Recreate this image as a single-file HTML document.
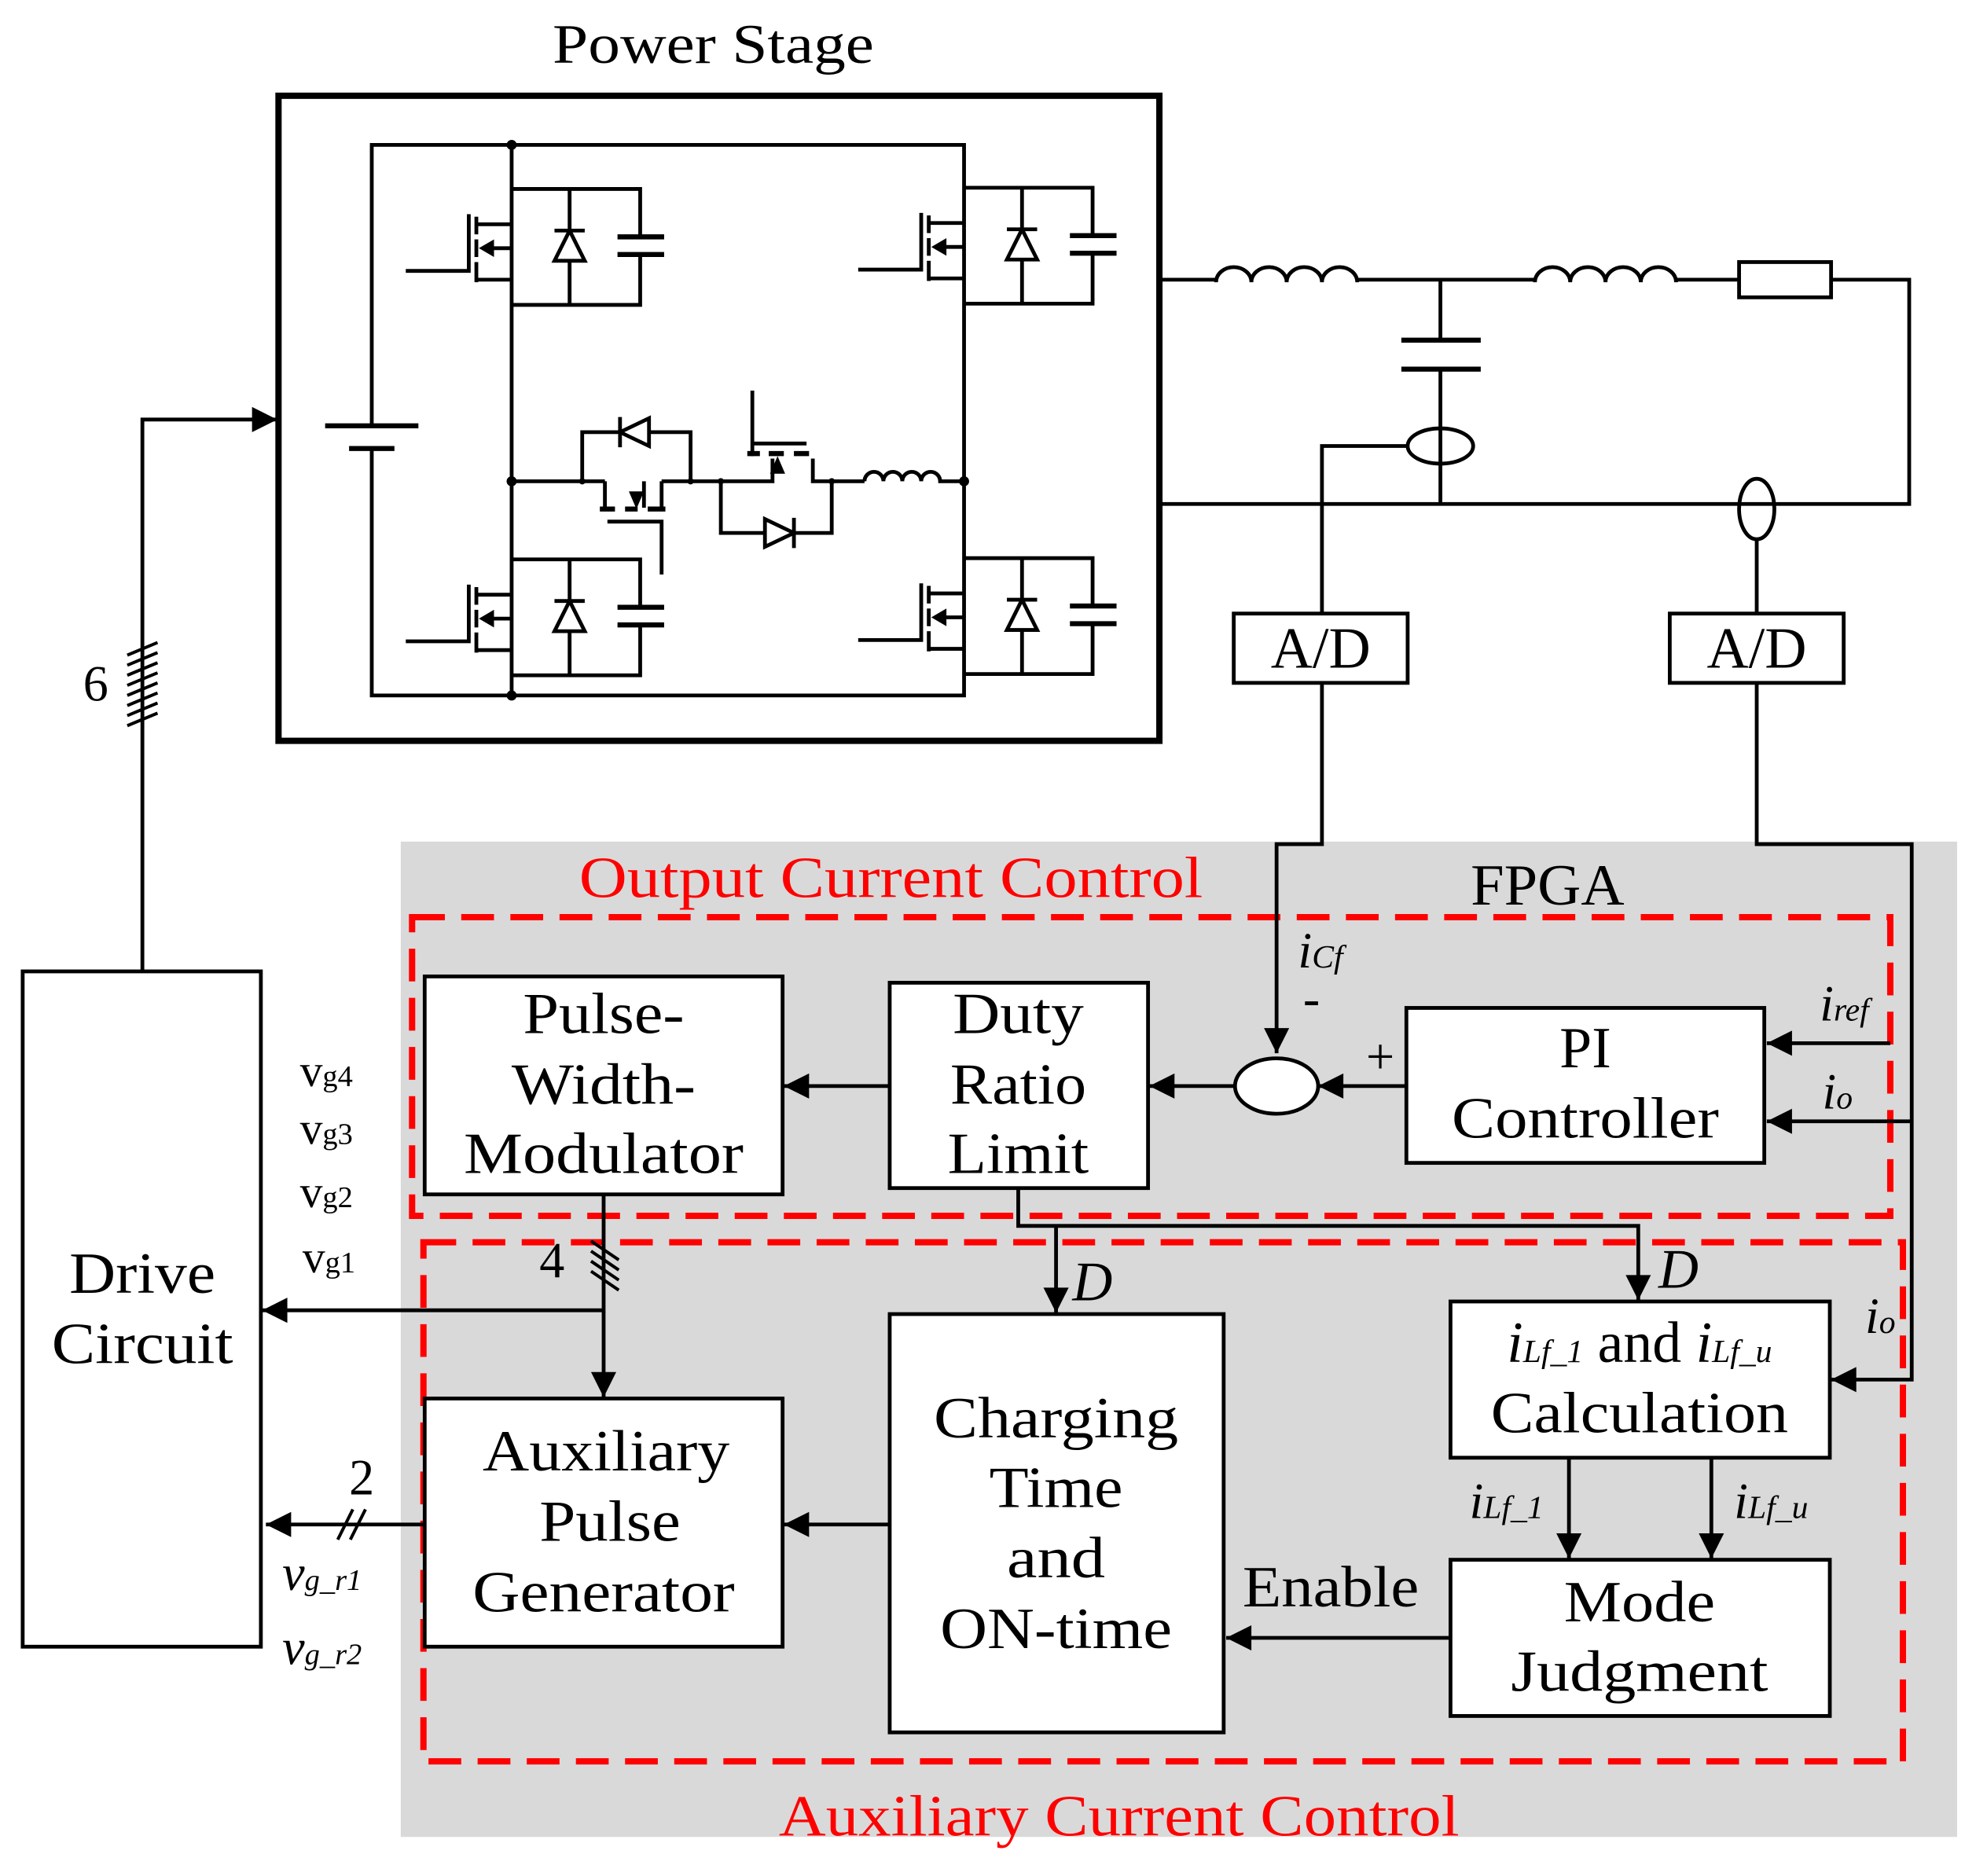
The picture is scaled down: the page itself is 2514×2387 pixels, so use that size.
<!DOCTYPE html>
<html><head><meta charset="utf-8"><style>
html,body{margin:0;padding:0;background:#fff;}
svg{display:block;}
text{font-family:"Liberation Serif",serif;}
</style></head><body>
<svg width="2514" height="2387" viewBox="0 0 1568 1489" preserveAspectRatio="none" xmlns="http://www.w3.org/2000/svg">
<defs>
<marker id="ah" viewBox="0 0 10 10" refX="10" refY="5" markerWidth="22" markerHeight="20" markerUnits="userSpaceOnUse" orient="auto"><path d="M0,0L10,5L0,10z" fill="#000"/></marker>
<g id="mos">
 <path d="M0,0H102V38M102,52V92H0" fill="none" stroke="#000" stroke-width="3"/>
 <line x1="84" y1="38" x2="121" y2="38" stroke="#000" stroke-width="4"/>
 <line x1="84" y1="52" x2="121" y2="52" stroke="#000" stroke-width="4"/>
 <line x1="46" y1="0" x2="46" y2="92" stroke="#000" stroke-width="3"/>
 <path d="M34,57L58,57L46,33z" fill="#fff" stroke="#000" stroke-width="3"/>
 <line x1="34" y1="33" x2="58" y2="33" stroke="#000" stroke-width="3"/>
 <path d="M-84,65H-34V20" fill="none" stroke="#000" stroke-width="3"/>
 <line x1="-28" y1="22" x2="-28" y2="36" stroke="#000" stroke-width="3"/>
 <line x1="-28" y1="40" x2="-28" y2="54" stroke="#000" stroke-width="3"/>
 <line x1="-28" y1="58" x2="-28" y2="74" stroke="#000" stroke-width="3"/>
 <path d="M-28,28H0M-28,72H0M0,47H-16" fill="none" stroke="#000" stroke-width="3"/>
 <path d="M-26,47L-14,40L-14,54z" fill="#000"/>
</g>
</defs>
<rect width="1568" height="1489" fill="#fff"/>

<text x="566" y="50" font-size="44" text-anchor="middle" textLength="255" lengthAdjust="spacingAndGlyphs">Power Stage</text>
<rect x="221" y="76" width="699" height="512" fill="none" stroke="#000" stroke-width="5"/>

<g fill="none" stroke="#000" stroke-width="3">
 <path d="M295,338V115H765V552H295V355"/>
 <line x1="406" y1="115" x2="406" y2="552"/>
 <line x1="258" y1="338" x2="332" y2="338" stroke-width="4"/>
 <line x1="277" y1="356" x2="313" y2="356" stroke-width="4"/>
 <path d="M406,382H480M462,382V343H548V382M525,382H572"/>
 <path d="M480,382V403M511,382V403M525,382V403"/>
 <path d="M476,404H488M496,404H506M514,404H528" stroke-width="4"/>
 <path d="M482,414H525V456"/>
 <path d="M572,382V423H660V382H645V364M572,382H613V364M597,362V310"/>
 <path d="M593,360H603M610,360H622M630,360H642" stroke-width="4"/>
 <path d="M597,352H640"/>
 <line x1="660" y1="382" x2="686" y2="382"/>
 <path d="M686,382a7.5,7.5 0 0 1 15,0a7.5,7.5 0 0 1 15,0a7.5,7.5 0 0 1 15,0a7.5,7.5 0 0 1 15,0H765"/>
</g>
<path d="M492,343L515,332V354z" fill="#fff" stroke="#000" stroke-width="3"/>
<line x1="492" y1="331" x2="492" y2="355" stroke="#000" stroke-width="3"/>
<path d="M630,423L607,412V434z" fill="#fff" stroke="#000" stroke-width="3"/>
<line x1="630" y1="411" x2="630" y2="435" stroke="#000" stroke-width="3"/>
<path d="M505,404L499,390H511z" fill="#000"/>
<path d="M617,362L611,376H623z" fill="#000"/>
<g fill="#000">
 <circle cx="406" cy="115" r="4"/><circle cx="406" cy="382" r="4"/><circle cx="406" cy="552" r="4"/><circle cx="765" cy="382" r="4"/>
 <circle cx="462" cy="382" r="2.5"/><circle cx="548" cy="382" r="2.5"/><circle cx="572" cy="382" r="2.5"/><circle cx="660" cy="382" r="2.5"/>
</g>
<use href="#mos" x="406" y="150"/>
<use href="#mos" x="765" y="149"/>
<use href="#mos" x="406" y="444"/>
<use href="#mos" x="765" y="443"/>

<g fill="none" stroke="#000" stroke-width="3">
 <path d="M920,222H965"/>
 <path d="M965,224a14,12 0 0 1 28,0a14,12 0 0 1 28,0a14,12 0 0 1 28,0a14,12 0 0 1 28,0"/>
 <path d="M1077,222H1218"/>
 <path d="M1218,224a14,12 0 0 1 28,0a14,12 0 0 1 28,0a14,12 0 0 1 28,0a14,12 0 0 1 28,0"/>
 <path d="M1330,222H1380M1453,222H1515V400H920"/>
 <rect x="1380" y="208" width="73" height="28"/>
 <path d="M1143,222V270M1143,293V400"/>
 <line x1="1112" y1="270" x2="1175" y2="270" stroke-width="4"/>
 <line x1="1112" y1="293" x2="1175" y2="293" stroke-width="4"/>
 <ellipse cx="1143" cy="354" rx="26" ry="14"/>
 <ellipse cx="1394" cy="404" rx="14" ry="24"/>
 <path d="M1117,354H1049V487M1394,428V487"/>
 <rect x="979" y="487" width="138" height="55"/>
 <rect x="1325" y="487" width="138" height="55"/>
</g>
<text x="1048" y="530" font-size="46" text-anchor="middle">A/D</text>
<text x="1394" y="530" font-size="46" text-anchor="middle">A/D</text>

<rect x="318" y="668" width="1235" height="790" fill="#d9d9d9"/>
<rect x="327" y="728" width="1173" height="237" fill="none" stroke="#f00" stroke-width="5" stroke-dasharray="26 13"/>
<rect x="336" y="986" width="1174" height="412" fill="none" stroke="#f00" stroke-width="5" stroke-dasharray="26 13"/>
<text x="707" y="712" font-size="46" text-anchor="middle" fill="#f00" textLength="495" lengthAdjust="spacingAndGlyphs">Output Current Control</text>
<text x="888" y="1457" font-size="46" text-anchor="middle" fill="#f00" textLength="540" lengthAdjust="spacingAndGlyphs">Auxiliary Current Control</text>
<text x="1228" y="718" font-size="46" text-anchor="middle" textLength="122" lengthAdjust="spacingAndGlyphs">FPGA</text>

<g fill="none" stroke="#000" stroke-width="3">
 <path d="M1049,542V670H1013V836" marker-end="url(#ah)"/>
 <path d="M1394,542V670H1517V1095H1453" marker-end="url(#ah)"/>
 <path d="M1517,890H1402" marker-end="url(#ah)"/>
 <path d="M1500,828H1402" marker-end="url(#ah)"/>
 <path d="M1116,862H1046" marker-end="url(#ah)"/>
 <path d="M980,862H912" marker-end="url(#ah)"/>
 <path d="M706,862H622" marker-end="url(#ah)"/>
 <path d="M479,948V1109" marker-end="url(#ah)"/>
 <path d="M479,1040H208" marker-end="url(#ah)"/>
 <path d="M808,943V973H1300V1032" marker-end="url(#ah)"/>
 <path d="M838,973V1042" marker-end="url(#ah)"/>
 <path d="M336,1210H211" marker-end="url(#ah)"/>
 <path d="M706,1210H622" marker-end="url(#ah)"/>
 <path d="M1151,1300H973" marker-end="url(#ah)"/>
 <path d="M1245,1157V1237" marker-end="url(#ah)"/>
 <path d="M1358,1157V1237" marker-end="url(#ah)"/>
 <path d="M113,771V333H220" marker-end="url(#ah)"/>
 <ellipse cx="1013" cy="862" rx="33" ry="22" fill="#fff"/>
</g>
<g stroke="#000" stroke-width="2.5">
 <path d="M101,520L125,510M101,528L125,518M101,536L125,526M101,544L125,534M101,552L125,542M101,560L125,550M101,568L125,558M101,576L125,566"/>
 <path d="M469,985L491,1000M469,993L491,1008M469,1001L491,1016M469,1009L491,1024"/>
 <path d="M268,1222L280,1198M278,1222L290,1198"/>
</g>

<g fill="#fff" stroke="#000" stroke-width="3">
 <rect x="337" y="775" width="284" height="173"/>
 <rect x="706" y="780" width="205" height="163"/>
 <rect x="1116" y="800" width="284" height="123"/>
 <rect x="1151" y="1033" width="301" height="124"/>
 <rect x="1151" y="1238" width="301" height="124"/>
 <rect x="706" y="1043" width="265" height="332"/>
 <rect x="337" y="1110" width="284" height="197"/>
 <rect x="18" y="771" width="189" height="536"/>
</g>
<g font-size="46" text-anchor="middle">
 <text x="479" y="820" textLength="128" lengthAdjust="spacingAndGlyphs">Pulse-</text>
 <text x="479" y="876" textLength="146" lengthAdjust="spacingAndGlyphs">Width-</text>
 <text x="479" y="931" textLength="222" lengthAdjust="spacingAndGlyphs">Modulator</text>
 <text x="808" y="820" textLength="104" lengthAdjust="spacingAndGlyphs">Duty</text>
 <text x="808" y="876" textLength="108" lengthAdjust="spacingAndGlyphs">Ratio</text>
 <text x="808" y="931" textLength="112" lengthAdjust="spacingAndGlyphs">Limit</text>
 <text x="1258" y="847">PI</text>
 <text x="1258" y="903" textLength="212" lengthAdjust="spacingAndGlyphs">Controller</text>
 <text x="1301" y="1137" textLength="236" lengthAdjust="spacingAndGlyphs">Calculation</text>
 <text x="1301" y="1287" textLength="120" lengthAdjust="spacingAndGlyphs">Mode</text>
 <text x="1301" y="1342" textLength="204" lengthAdjust="spacingAndGlyphs">Judgment</text>
 <text x="838" y="1141" textLength="194" lengthAdjust="spacingAndGlyphs">Charging</text>
 <text x="838" y="1196" textLength="106" lengthAdjust="spacingAndGlyphs">Time</text>
 <text x="838" y="1252" textLength="78" lengthAdjust="spacingAndGlyphs">and</text>
 <text x="838" y="1308" textLength="184" lengthAdjust="spacingAndGlyphs">ON-time</text>
 <text x="481" y="1167" textLength="196" lengthAdjust="spacingAndGlyphs">Auxiliary</text>
 <text x="484" y="1223" textLength="112" lengthAdjust="spacingAndGlyphs">Pulse</text>
 <text x="479" y="1279" textLength="208" lengthAdjust="spacingAndGlyphs">Generator</text>
 <text x="113" y="1026" textLength="116" lengthAdjust="spacingAndGlyphs">Drive</text>
 <text x="113" y="1082" textLength="144" lengthAdjust="spacingAndGlyphs">Circuit</text>
 <text x="1056" y="1275" textLength="140" lengthAdjust="spacingAndGlyphs">Enable</text>
</g>
<text x="1301" y="1081" font-size="46" text-anchor="middle"><tspan font-style="italic">i</tspan><tspan font-style="italic" font-size="26">Lf_1</tspan> and <tspan font-style="italic">i</tspan><tspan font-style="italic" font-size="26">Lf_u</tspan></text>
<g font-size="44" font-style="italic">
 <text x="851" y="1032">D</text><text x="1316" y="1022">D</text>
</g>
<g font-size="40" font-style="italic">
 <text x="1030" y="768">i<tspan font-size="26">Cf</tspan></text>
 <text x="1444" y="810">i<tspan font-size="26">ref</tspan></text>
 <text x="1446" y="880">i<tspan font-size="26">o</tspan></text>
 <text x="1480" y="1058">i<tspan font-size="26">o</tspan></text>
 <text x="1166" y="1205">i<tspan font-size="26">Lf_1</tspan></text>
 <text x="1376" y="1205">i<tspan font-size="26">Lf_u</tspan></text>
 <text x="224" y="1262">v<tspan font-size="24">g_r1</tspan></text>
 <text x="224" y="1321">v<tspan font-size="24">g_r2</tspan></text>
</g>
<g font-size="40">
 <text x="1084" y="852">+</text><text x="1034" y="806">-</text>
 <text x="66" y="556">6</text><text x="428" y="1014">4</text><text x="277" y="1186">2</text>
</g>
<g font-size="36">
 <text x="238" y="862">v<tspan font-size="24">g4</tspan></text>
 <text x="238" y="908">v<tspan font-size="24">g3</tspan></text>
 <text x="238" y="958">v<tspan font-size="24">g2</tspan></text>
 <text x="240" y="1010">v<tspan font-size="24">g1</tspan></text>
</g>
</svg>
</body></html>
